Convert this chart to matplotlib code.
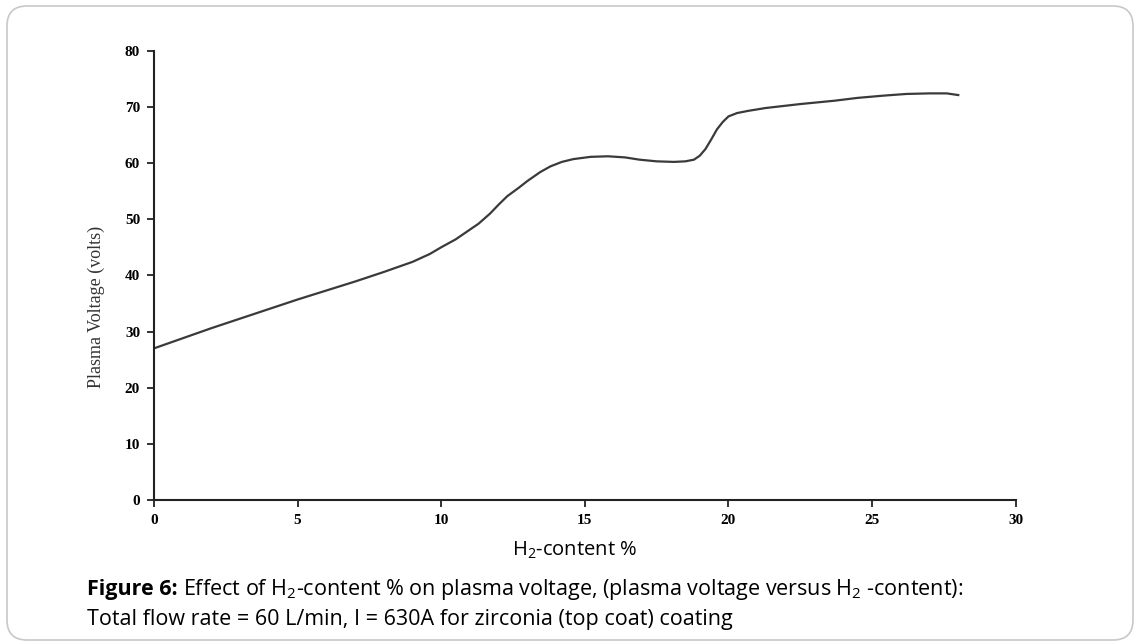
import matplotlib
matplotlib.use("Agg")
import matplotlib.pyplot as plt
from matplotlib.patches import FancyBboxPatch

# Data
h2_content = [0.0, 1.0, 2.0, 3.0, 4.0, 5.0, 6.0, 7.0, 8.0, 9.0, 9.6, 10.0,
              10.5, 10.9, 11.3, 11.7, 12.0, 12.3, 12.7, 13.0, 13.45, 13.8, 14.2,
              14.6, 15.2, 15.8, 16.4, 16.9, 17.5, 18.1, 18.5, 18.8, 19.0, 19.2,
              19.4, 19.6, 19.8, 20.0, 20.3, 20.7, 21.3, 22.5, 23.7, 24.5, 25.4,
              26.2, 27.0, 27.6, 28.0]
plasma_voltage = [27.0, 28.8, 30.6, 32.3, 34.0, 35.7, 37.3, 38.9, 40.6, 42.4, 43.8,
                  45.0, 46.4, 47.8, 49.2, 51.0, 52.6, 54.1, 55.6, 56.8, 58.4, 59.4,
                  60.2, 60.7, 61.1, 61.2, 61.0, 60.6, 60.3, 60.2, 60.3, 60.6, 61.3,
                  62.5, 64.2, 66.0, 67.3, 68.3, 68.9, 69.3, 69.8, 70.5, 71.1, 71.6,
                  72.0, 72.3, 72.4, 72.4, 72.1]

x_ticks = [0, 5, 10, 15, 20, 25, 30]
y_ticks = [0, 10, 20, 30, 40, 50, 60, 70, 80]

W, H = 1140, 644
fig = plt.figure(figsize=(W / 100, H / 100), dpi=100)
fig.patch.set_facecolor("white")

# background axes in pixel units for the rounded frame
bg = fig.add_axes([0, 0, 1, 1])
bg.set_xlim(0, W)
bg.set_ylim(H, 0)
bg.axis("off")
bg.add_patch(FancyBboxPatch((7, 6), W - 14, 634,
                            boxstyle="round,pad=0,rounding_size=20",
                            facecolor="none", edgecolor="#c8c8c8", linewidth=1.2))

ax = fig.add_axes([154 / W, (H - 500) / H, (1015.7 - 154) / W, (500 - 50.7) / H])
ax.plot(h2_content, plasma_voltage, color="#3a3a3a", linewidth=1.6)
ax.set_xlim(0, 30)
ax.set_ylim(0, 80)
ax.set_xticks(x_ticks)
ax.set_yticks(y_ticks)
ax.patch.set_alpha(0)
for s in ["top", "right"]:
    ax.spines[s].set_visible(False)
for s in ["left", "bottom"]:
    ax.spines[s].set_linewidth(1.5)
    ax.spines[s].set_color("#222222")
ax.tick_params(direction="out", length=5, width=1.3, color="#222222", pad=5)
for lab in ax.get_xticklabels() + ax.get_yticklabels():
    lab.set_fontfamily("Liberation Serif")
    lab.set_fontweight("bold")
    lab.set_fontsize(11)
ax.set_ylabel("Plasma Voltage (volts)", fontfamily="Liberation Serif",
              fontsize=13, color="#333333")
ax.yaxis.set_label_coords(-0.057, 0.43)

fig.text(575 / W, 1 - 550 / H, r"H$_{\mathregular{2}}$-content %",
         fontfamily="Open Sans", fontsize=14.5, ha="center", va="center")

fig.text(87 / W, 1 - 589 / H, "Figure 6:", fontfamily="Open Sans",
         fontweight="bold", fontsize=15.5, ha="left", va="center")
fig.text(183 / W, 1 - 589 / H,
         r"Effect of H$_{\mathregular{2}}$-content % on plasma voltage, (plasma voltage versus H$_{\mathregular{2}}$ -content):",
         fontfamily="Open Sans", fontsize=15.5, ha="left", va="center")
fig.text(87 / W, 1 - 619 / H,
         "Total flow rate = 60 L/min, I = 630A for zirconia (top coat) coating",
         fontfamily="Open Sans", fontsize=15.5, ha="left", va="center")

fig.savefig("out.png", dpi=100)
